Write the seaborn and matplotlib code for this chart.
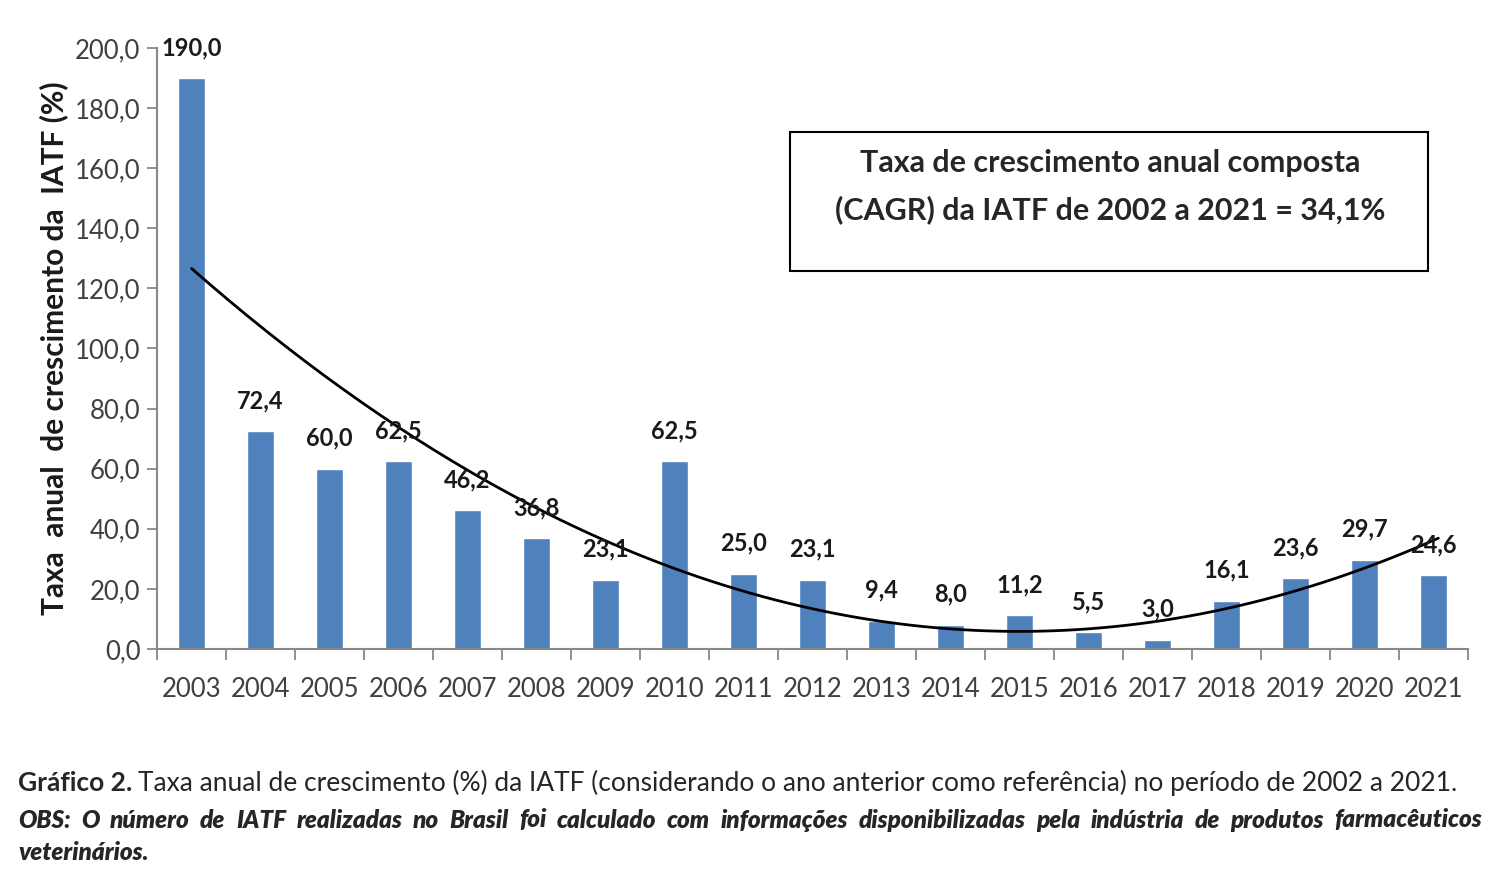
import numpy as np
import matplotlib
matplotlib.use("Agg")
import matplotlib.pyplot as plt
import seaborn as sns

anos = [str(a) for a in range(2003, 2022)]
taxa = [190.0, 72.4, 60.0, 62.5, 46.2, 36.8, 23.1, 62.5, 25.0, 23.1,
        9.4, 8.0, 11.2, 5.5, 3.0, 16.1, 23.6, 29.7, 24.6]
yticks = np.arange(0, 201, 20)

sns.set_style("white")
plt.rcParams['font.family'] = ['Lato', 'DejaVu Sans']

fig = plt.figure(figsize=(15, 8.89), dpi=100)
ax = fig.add_axes([0.1047, 0.270, 0.8740, 0.676])

sns.barplot(x=anos, y=taxa, color="#4F81BD", saturation=1, width=0.4, ax=ax)

# linha de tendencia polinomial (ordem 2)
xs = np.arange(len(taxa))
coef = np.polyfit(xs, taxa, 2)
xl = np.linspace(0, len(taxa) - 0.93, 200)
ax.plot(xl, np.polyval(coef, xl), color="black", lw=2)

for i, v in enumerate(taxa):
    ax.annotate(f"{v:.1f}".replace(".", ","), (i, v), xytext=(0, 22),
                textcoords="offset points", ha="center", va="center",
                fontsize=17, fontweight="bold", color="#1a1a1a")

ax.set_ylim(0, 200)
ax.set_xlim(-0.5, len(taxa) - 0.5)
ax.set_yticks(yticks)
ax.set_yticklabels([f"{t:.1f}".replace(".", ",") for t in yticks])
ax.tick_params(axis="y", labelsize=18.5, labelcolor="#404040", length=7,
               width=1.3, color="#888888", direction="out", left=True, pad=5)
ax.set_xticks(xs)
ax.set_xticklabels(anos)
ax.tick_params(axis="x", labelsize=18.5, labelcolor="#404040", length=0, pad=20)
ax.set_xticks(np.arange(-0.5, len(taxa)), minor=True)
ax.tick_params(axis="x", which="minor", length=8, width=1.3, color="#888888",
               direction="out", bottom=True)
for s in ["top", "right"]:
    ax.spines[s].set_visible(False)
for s in ["left", "bottom"]:
    ax.spines[s].set_color("#888888")
    ax.spines[s].set_linewidth(1.5)
ax.set_xlabel("")
ax.set_ylabel("Taxa  anual  de crescimento da  IATF (%)", fontsize=21.5,
              fontweight="bold", color="#1a1a1a")
ax.yaxis.set_label_coords(-0.068, 0.5)

# caixa CAGR
fig.patches.append(plt.Rectangle((790 / 1500, 1 - 271 / 889), 638 / 1500, 139 / 889,
                                 transform=fig.transFigure, fill=False,
                                 edgecolor="black", lw=1.5))
fig.text(1110 / 1500, 1 - 163 / 889, "Taxa de crescimento anual composta",
         ha="center", va="center", fontsize=22, fontweight="bold")
fig.text(1110 / 1500, 1 - 210 / 889, "(CAGR) da IATF de 2002 a 2021 = 34,1%",
         ha="center", va="center", fontsize=22, fontweight="bold")

# legenda
renderer = fig.canvas.get_renderer()
x0, x1 = 18 / 1500, 1482 / 1500
t1 = fig.text(x0, 1 - 783 / 889, "Gráfico 2.", fontsize=19, fontweight="bold",
              va="center")
w1 = t1.get_window_extent(renderer).width / 1500
fig.text(x0 + w1 + 0.004, 1 - 783 / 889,
         "Taxa anual de crescimento (%) da IATF (considerando o ano anterior como referência) no período de 2002 a 2021.",
         fontsize=19, va="center")

linha2 = ("OBS: O número de IATF realizadas no Brasil foi calculado com "
          "informações disponibilizadas pela indústria de produtos farmacêuticos").split()
objs = [fig.text(0, 1 - 820 / 889, w, fontsize=17.5, fontweight="heavy",
                 style="italic", va="center") for w in linha2]
ws = [o.get_window_extent(renderer).width / 1500 for o in objs]
gap = ((x1 - x0) - sum(ws)) / (len(ws) - 1)
pos = x0
for o, w in zip(objs, ws):
    o.set_x(pos)
    pos += w + gap
fig.text(x0, 1 - 853 / 889, "veterinários.", fontsize=17.5, fontweight="heavy",
         style="italic", va="center")

fig.savefig("out.png", dpi=100)
